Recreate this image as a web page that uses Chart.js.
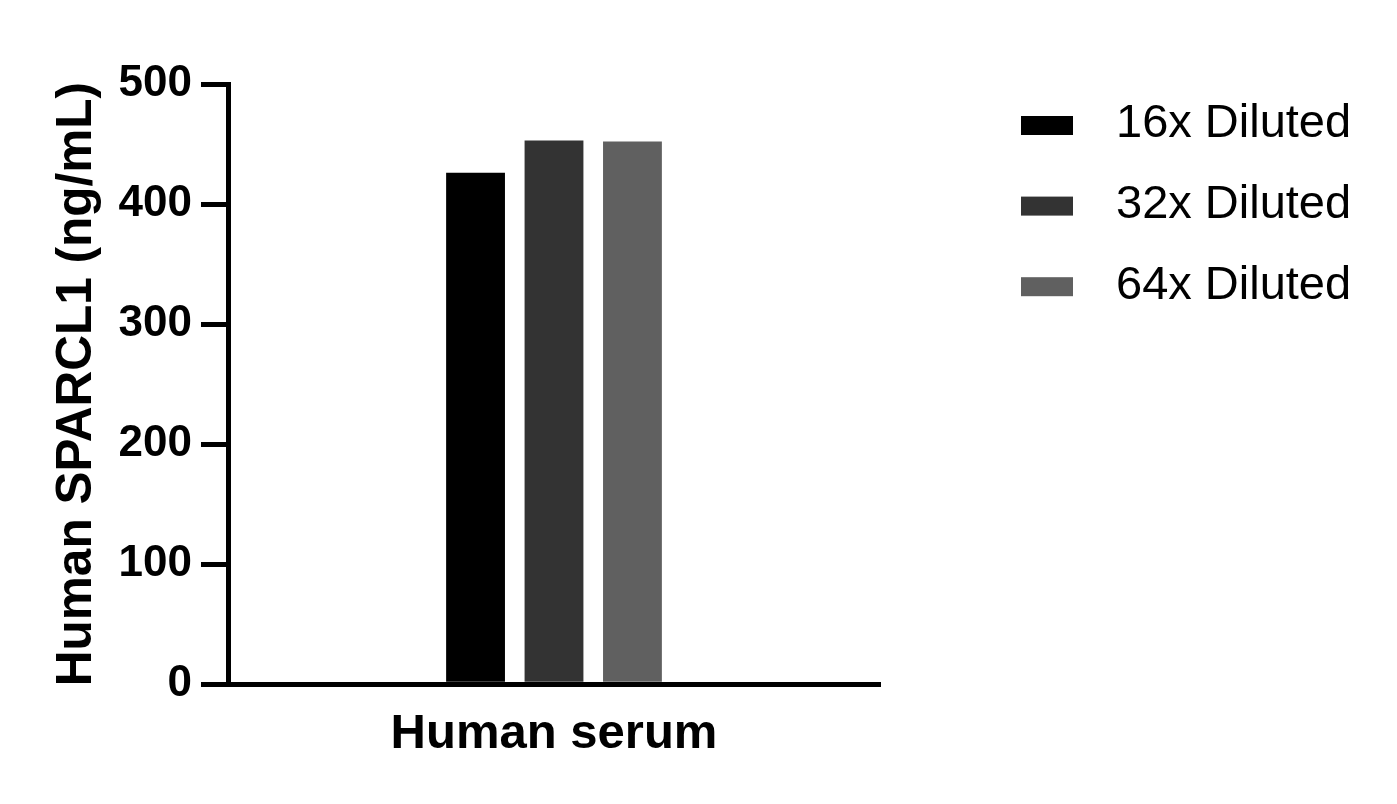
<!DOCTYPE html>
<html>
<head>
<meta charset="utf-8">
<script src="https://cdn.jsdelivr.net/npm/chart.js@4"></script>
<style>
  body { margin: 0; background: #fff; }
</style>
</head>
<body>
<canvas id="grafico" width="1397" height="804"></canvas>
<script>
const categorias = ['Human serum'];
const series = ['16x Diluted', '32x Diluted', '64x Diluted'];
const valores16x = [426];
const valores32x = [453];
const valores64x = [452];
const cores = ['#000000', '#333333', '#606060'];
const ticksY = [0, 100, 200, 300, 400, 500];

const fonte = '"Liberation Sans", Arial, sans-serif';

// legenda desenhada a mano, ao lado do grafico
const legendaLateral = {
    id: 'legendaLateral',
    afterDraw(chart) {
        const ctx = chart.ctx;
        ctx.save();
        ctx.font = '47px ' + fonte;
        ctx.textBaseline = 'middle';
        ctx.textAlign = 'left';
        chart.data.datasets.forEach((dataset, i) => {
            const yCentro = 125.5 + i * 80.6;
            ctx.fillStyle = dataset.backgroundColor;
            ctx.fillRect(1021, yCentro - 9.5, 52, 19);
            ctx.fillStyle = '#000';
            ctx.fillText(dataset.label, 1116, yCentro - 1);
        });
        ctx.restore();
    }
};

const graficoSerum = new Chart(document.getElementById('grafico'), {
    type: 'bar',
    data: {
        labels: categorias,
        datasets: [
            { label: series[0], data: valores16x, backgroundColor: cores[0] },
            { label: series[1], data: valores32x, backgroundColor: cores[1] },
            { label: series[2], data: valores64x, backgroundColor: cores[2] }
        ]
    },
    options: {
        responsive: false,
        animation: false,
        devicePixelRatio: 1,
        categoryPercentage: 0.361,
        barPercentage: 0.75,
        layout: {
            padding: { top: 84, right: 517, bottom: 19, left: 0 }
        },
        plugins: {
            legend: { display: false },
            tooltip: { enabled: false }
        },
        scales: {
            x: {
                grid: { display: false, drawTicks: false },
                border: { display: true, width: 5, color: '#000' },
                ticks: {
                    color: '#000',
                    padding: 21,
                    font: { family: fonte, size: 49, weight: 'bold' }
                }
            },
            y: {
                min: 0,
                max: 500,
                afterFit(scale) { scale.width = 228; },
                afterBuildTicks(scale) { scale.ticks = ticksY.map(v => ({ value: v })); },
                grid: {
                    drawOnChartArea: false,
                    drawTicks: true,
                    tickLength: 27,
                    lineWidth: 5,
                    color: '#000'
                },
                border: { display: true, width: 5, color: '#000' },
                ticks: {
                    color: '#000',
                    padding: 9,
                    font: { family: fonte, size: 44, weight: 'bold' }
                },
                title: {
                    display: true,
                    text: 'Human SPARCL1 (ng/mL)',
                    color: '#000',
                    padding: { top: 48, bottom: 0 },
                    font: { family: fonte, size: 49.5, weight: 'bold' }
                }
            }
        }
    },
    plugins: [legendaLateral]
});
</script>
</body>
</html>
